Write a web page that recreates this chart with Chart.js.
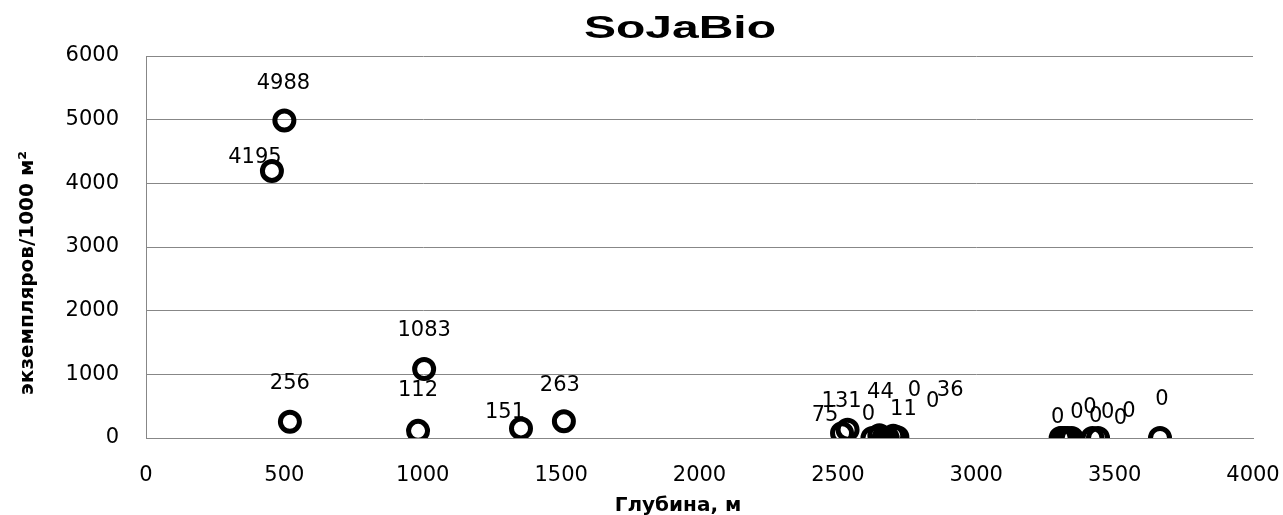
<!DOCTYPE html>
<html>
<head>
<meta charset="utf-8">
<script src="https://cdn.jsdelivr.net/npm/chart.js@4/dist/chart.umd.min.js"></script>
<style>
    body { margin: 0; background: #fff; }
    #box { width: 1283px; height: 515px; }
</style>
</head>
<body>
<div id="box"><canvas id="chartSoja"></canvas></div>
<script>
// Données : profondeur (m) et abondance (экземпляров/1000 м²)
const depth     = [500, 455, 520, 1005, 983, 1355, 1510,
                   2515, 2535, 2625, 2650, 2665, 2680, 2700, 2715,
                   3305, 3310, 3320, 3330, 3345, 3420, 3440, 3664];
const abundance = [4988, 4195, 256, 1083, 112, 151, 263,
                   75, 131, 0, 44, 0, 0, 36, 11,
                   0, 0, 0, 0, 0, 0, 0, 0];
const xTicks = [0, 500, 1000, 1500, 2000, 2500, 3000, 3500, 4000];
const yTicks = [0, 1000, 2000, 3000, 4000, 5000, 6000];

const chartTitle = 'SoJaBio';
const xTitle     = 'Глубина, м';
const yTitle     = 'экземпляров/1000 м²';

// décalage des étiquettes (px) comme dans l'original
const labelShift = [[-1,-37],[-17,-13],[0,-38],[0,-39],[0,-40],[-16,-16],[-4,-36],
                    [-17,-18],[-6,-28],[-4,-23],[1,-43],[31,-47],[45,-36],[57,-45],[6,-28],
                    [-3,-20],[15,-25],[25,-30],[28,-21],[36,-25],[28,-19],[31,-26],[2,-38]];

const GRID = '#878787';
const TICK_FONT = { family: '"DejaVu Sans"', size: 21 };

// Plugin : valeurs au-dessus des points
const valueLabels = {
    id: 'valueLabels',
    afterDatasetsDraw(chart) {
        const { ctx } = chart;
        const meta = chart.getDatasetMeta(0);
        ctx.save();
        ctx.font = '21px "DejaVu Sans"';
        ctx.fillStyle = '#000';
        ctx.textAlign = 'center';
        ctx.textBaseline = 'middle';
        meta.data.forEach((pt, i) => {
            const s = labelShift[i] || [0, -38];
            ctx.fillText(String(abundance[i]), pt.x + s[0], pt.y + s[1]);
        });
        ctx.restore();
    }
};

// Plugin : titres (titre étiré comme dans Excel)
const titles = {
    id: 'titles',
    afterDraw(chart) {
        const { ctx } = chart;
        ctx.save();
        ctx.fillStyle = '#000';
        ctx.textAlign = 'center';
        ctx.textBaseline = 'alphabetic';

        ctx.save();
        ctx.translate(680, 38);
        ctx.scale(1.5, 1);
        ctx.font = 'bold 32px "Liberation Sans"';
        ctx.fillText(chartTitle, 0, 0);
        ctx.restore();

        ctx.font = 'bold 20px "DejaVu Sans"';
        ctx.fillText(xTitle, 678, 511);

        ctx.save();
        ctx.translate(33, 273);
        ctx.rotate(-Math.PI / 2);
        ctx.fillText(yTitle, 0, 0);
        ctx.restore();

        ctx.restore();
    }
};

new Chart(document.getElementById('chartSoja').getContext('2d'), {
    type: 'scatter',
    data: {
        datasets: [{
            data: depth.map((d, i) => ({ x: d, y: abundance[i] })),
            pointStyle: 'circle',
            pointRadius: 9.5,
            pointBorderWidth: 5,
            borderColor: '#000',
            backgroundColor: 'rgba(0,0,0,0)'
        }]
    },
    options: {
        responsive: true,
        maintainAspectRatio: false,
        animation: false,
        events: [],
        layout: { padding: { top: 56, right: 30, left: 0, bottom: 0 } },
        plugins: { legend: { display: false }, tooltip: { enabled: false } },
        scales: {
            x: {
                type: 'linear',
                min: xTicks[0],
                max: xTicks[xTicks.length - 1],
                afterBuildTicks: s => { s.ticks = xTicks.map(v => ({ value: v })); },
                afterFit: s => { s.height = 77; s.paddingLeft = 0; s.paddingRight = 0; },
                grid: { display: false, drawTicks: false },
                border: { display: true, color: GRID, width: 1 },
                ticks: { color: '#000', font: TICK_FONT, padding: 25, maxRotation: 0, callback: v => String(v) }
            },
            y: {
                min: yTicks[0],
                max: yTicks[yTicks.length - 1],
                afterBuildTicks: s => { s.ticks = yTicks.map(v => ({ value: v })); },
                afterFit: s => { s.width = 146; s.paddingTop = 0; s.paddingBottom = 0; },
                grid: { color: GRID, drawTicks: false },
                border: { display: true, color: GRID, width: 1 },
                ticks: { color: '#000', font: TICK_FONT, padding: 27, callback: v => String(v) }
            }
        }
    },
    plugins: [valueLabels, titles]
});
</script>
</body>
</html>
